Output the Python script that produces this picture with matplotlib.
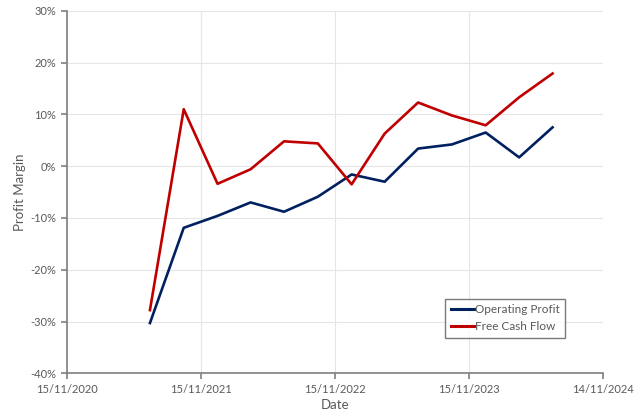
import numpy as np
import pandas as pd
import matplotlib
matplotlib.use('Agg')
import matplotlib.pyplot as plt
import matplotlib.dates as mdates
from matplotlib.ticker import PercentFormatter

# quarterly profit margins (%)
dates = ['2021-06-30', '2021-09-30', '2021-12-31', '2022-03-31', '2022-06-30',
         '2022-09-30', '2022-12-31', '2023-03-31', '2023-06-30', '2023-09-30',
         '2023-12-31', '2024-03-31', '2024-06-30']
operating_profit = [-30.3, -11.9, -9.6, -7.0, -8.8, -5.9, -1.6, -3.0, 3.4, 4.2, 6.5, 1.7, 7.5]
free_cash_flow = [-27.8, 11.0, -3.4, -0.6, 4.8, 4.4, -3.5, 6.3, 12.3, 9.8, 7.9, 13.3, 17.9]

x_start = pd.Timestamp('2020-11-15')
x_ticks = [x_start + pd.Timedelta(days=365 * k) for k in range(5)]
y_ticks = list(range(-40, 31, 10))

plt.rcParams['font.family'] = ['Lato', 'DejaVu Sans']
plt.rcParams['axes.unicode_minus'] = False
grey = '#595959'

fig = plt.figure(figsize=(6.4, 4.18), dpi=100)
ax = fig.add_axes([0.104, 0.107, 0.838, 0.867])

d = pd.to_datetime(dates)
ax.plot(d, operating_profit, color='#002060', lw=1.9, label='Operating Profit')
ax.plot(d, free_cash_flow, color='#C00000', lw=1.9, label='Free Cash Flow')

ax.set_xlim(x_ticks[0], x_ticks[-1])
ax.set_ylim(-40, 30)
ax.set_xticks(x_ticks)
ax.xaxis.set_major_formatter(mdates.DateFormatter('%d/%m/%Y'))
ax.set_yticks(y_ticks)
ax.yaxis.set_major_formatter(PercentFormatter(decimals=0))

ax.grid(True, color='#e6e6e6', lw=0.8)
ax.set_axisbelow(True)
for s in ['top', 'right']:
    ax.spines[s].set_visible(False)
for s in ['left', 'bottom']:
    ax.spines[s].set_color('#7f7f7f')
    ax.spines[s].set_linewidth(1.2)
ax.tick_params(colors='#7f7f7f', labelcolor=grey, labelsize=8, length=4, width=1.2)

ax.set_xlabel('Date', color=grey, fontsize=9.5, labelpad=3)
ax.set_ylabel('Profit Margin', color=grey, fontsize=9.5, labelpad=3)

leg = ax.legend(loc='lower left', bbox_to_anchor=(0.695, 0.082), fontsize=8.5,
                frameon=True, fancybox=False, handlelength=2.0, handletextpad=0.1,
                borderpad=0.45, labelspacing=0.55)
leg.get_frame().set_edgecolor('#595959')
leg.get_frame().set_linewidth(1.0)
for t in leg.get_texts():
    t.set_color(grey)
for l in leg.get_lines():
    l.set_linewidth(2.2)

fig.savefig('out.png', dpi=100)
